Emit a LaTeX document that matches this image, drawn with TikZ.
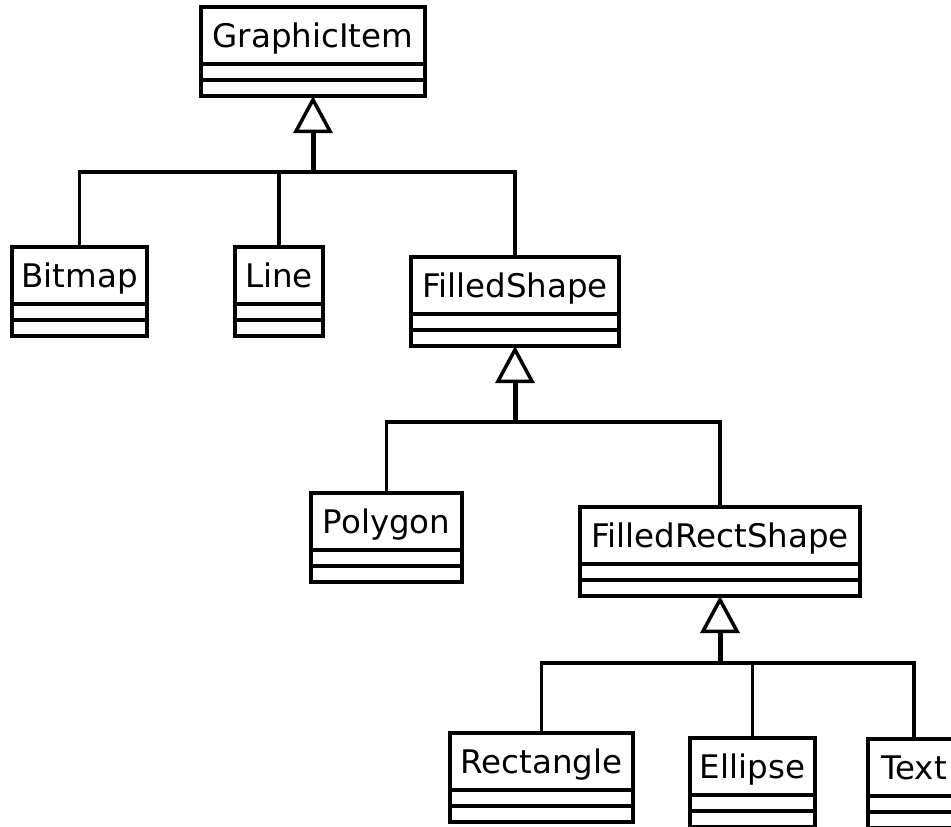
\documentclass[tikz,border=0pt]{standalone}
\usepackage{fontspec}
\setmainfont{DejaVu Sans}
\usetikzlibrary{arrows.meta}

% class box: name, left x, right x, top y, label
\newcommand\umlcls[5]{%
  \node[clsbox, minimum width={(#3-#2)*1pt}, anchor=north west] (#1) at (#2,#4) {};
  \draw[sepline] ([yshift=-57pt]#1.north west) -- ([yshift=-57pt]#1.north east);
  \draw[sepline] ([yshift=-73pt]#1.north west) -- ([yshift=-73pt]#1.north east);
  \node[clslabel] (#1-name) at ([yshift=-40pt]#1.north) {#5};
}

\tikzset{
  clsbox/.style={draw, line width=3.5pt, rectangle, inner sep=0pt, outer sep=0pt,
    minimum height=89pt, fill=white},
  sepline/.style={line width=3.5pt},
  clslabel/.style={anchor=base, inner sep=0pt, font=\fontsize{32.5}{38}\selectfont},
  branch/.style={line width=3.5pt},
  genstem/.style={line width=5pt,
    -{Triangle[open, length=37pt, width=39pt, line width=3.5pt]}},
}

\begin{document}
\begin{tikzpicture}[x=1pt, y=-1pt]
  \useasboundingbox (0,0) rectangle (951,827);
  \fill[white] (0,0) rectangle (951,827);
  \clip (0,0) rectangle (951,827);

  % classes
  \umlcls{gi}{201}{425}{7}{GraphicItem}
  \umlcls{bitmap}{12}{147}{247}{Bitmap}
  \umlcls{line}{235}{323}{247}{Line}
  \umlcls{fs}{411}{619}{257}{FilledShape}
  \umlcls{poly}{311}{462}{493}{Polygon}
  \umlcls{frs}{580}{860}{507}{FilledRectShape}
  \umlcls{rect}{450}{633}{733}{Rectangle}
  \umlcls{ell}{690}{815}{738}{Ellipse}
  \umlcls{txt}{868}{960}{739}{Text}

  % junction points of the generalisation trees
  \coordinate (j1) at (313,172);
  \coordinate (j2) at (515,422);
  \coordinate (j3) at (720,663);

  % GraphicItem subclasses
  \draw[branch] (bitmap.north) |- (j1);
  \draw[branch] (line.north) |- (j1);
  \draw[branch] (fs.north) |- (j1);
  \draw[genstem] (j1) -- (gi.south);

  % FilledShape subclasses
  \draw[branch] (poly.north) |- (j2);
  \draw[branch] (frs.north) |- (j2);
  \draw[genstem] (j2) -- (fs.south);

  % FilledRectShape subclasses
  \draw[branch] (rect.north) |- (j3);
  \draw[branch] (ell.north) |- (j3);
  \draw[branch] (txt.north) |- (j3);
  \draw[genstem] (j3) -- (frs.south);
\end{tikzpicture}
\end{document}
